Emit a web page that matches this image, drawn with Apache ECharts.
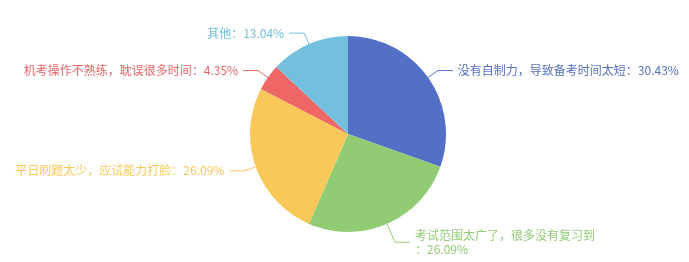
<!DOCTYPE html>
<html><head><meta charset="utf-8">
<script src="https://cdn.jsdelivr.net/npm/echarts@6/dist/echarts.min.js"></script>
<style>html,body{margin:0;padding:0;background:#fff}#c{width:689px;height:262px}</style>
</head><body><div id="c"></div>
<script>
const categories = ['没有自制力，导致备考时间太短', '考试范围太广了，很多没有复习到', '平日刷题太少，应试能力打脸', '机考操作不熟练，耽误很多时间', '其他'];
const values = [7, 6, 6, 1, 3];
const colors = ['#5470c6', '#91cc75', '#fac858', '#ee6666', '#73c0de'];
const chart = echarts.init(document.getElementById('c'));
chart.setOption({
  animation: false,
  color: colors,
  textStyle: { fontFamily: 'Noto Sans CJK SC' },
  series: [{
    type: 'pie',
    radius: 98,
    center: [348, 134],
    data: categories.map((n, i) => ({
      name: n, value: values[i],
      label: i === 1 ? { width: 182, overflow: 'break' } : {},
      labelLine: i === 1 ? { length: 20 } : {}
    })),
    label: { formatter: '{b}：{d}%', fontSize: 12, color: 'inherit', overflow: 'none', lineHeight: 14, fontFamily: 'Noto Sans CJK SC' },
    labelLine: { length: 12, length2: 15, lineStyle: { width: 1 } }
  }]
});
</script></body></html>
